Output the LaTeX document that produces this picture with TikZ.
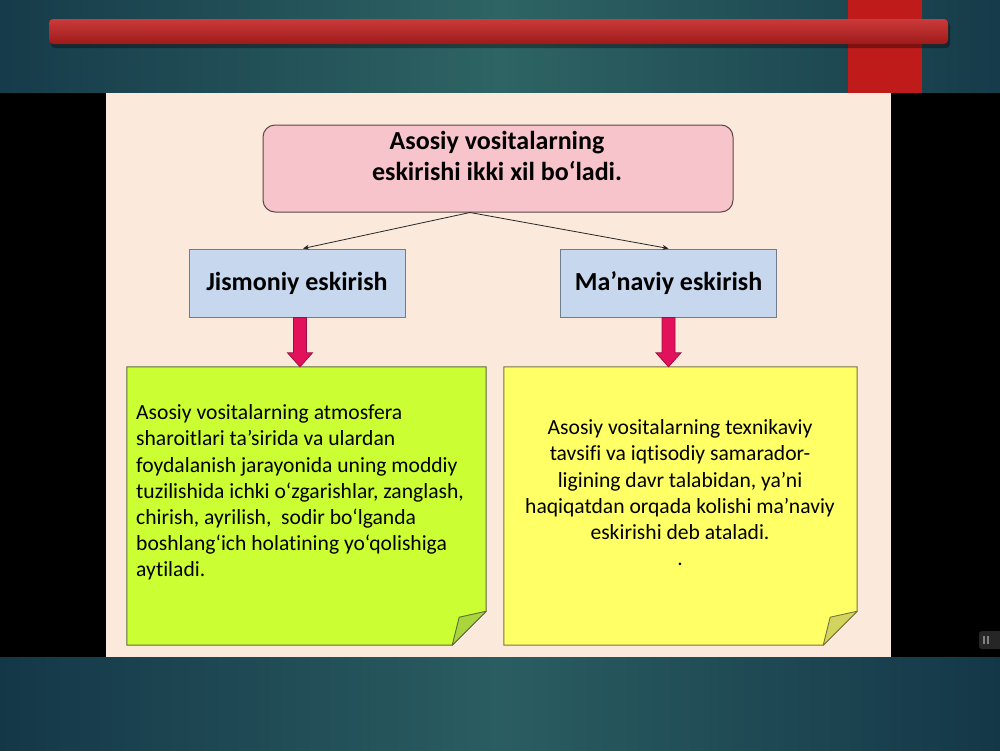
\documentclass[tikz,border=0pt]{standalone}
\usepackage{fontspec}
\setmainfont{Carlito}[Ligatures={NoCommon}]
\usetikzlibrary{calc,arrows.meta}
\definecolor{bgdark}{HTML}{163B4A}
\definecolor{bgmid}{HTML}{2E6464}
\definecolor{bgdarkb}{HTML}{143748}
\definecolor{bgmidb}{HTML}{2A5D61}
\definecolor{redtop}{HTML}{CB3A3A}
\definecolor{redbot}{HTML}{9E1A1A}
\definecolor{redvert}{HTML}{BF1B1B}
\definecolor{peach}{HTML}{FBE9DC}
\definecolor{pinkbox}{HTML}{F8C4CB}
\definecolor{pinkline}{HTML}{5A4848}
\definecolor{bluebox}{HTML}{C6D7EE}
\definecolor{blueline}{HTML}{6F7C8C}
\definecolor{lime}{HTML}{CCFF33}
\definecolor{limefold}{HTML}{A9D63C}
\definecolor{greenline}{HTML}{5E6B3A}
\definecolor{yell}{HTML}{FFFF66}
\definecolor{yellfold}{HTML}{D2D45E}
\definecolor{yellline}{HTML}{77744A}
\definecolor{crimson}{HTML}{E3105C}
\definecolor{crimsonline}{HTML}{9A1040}
\begin{document}
\begin{tikzpicture}[x=1pt,y=-1pt,
  topbox/.style={draw=pinkline, fill=pinkbox, rounded corners=12, minimum width=470, minimum height=87, line width=1},
  toptext/.style={font=\bfseries\fontsize{26}{31}\selectfont, align=center, inner sep=0},
  bluebx/.style={draw=blueline, fill=bluebox, minimum width=216, minimum height=68, line width=1, font=\bfseries\fontsize{26}{30}\selectfont},
  notearea/.style={minimum height=278, inner sep=0},
  bodytext/.style={font=\fontsize{21.6}{26.2}\selectfont, inner sep=0},
  thinarr/.style={-{Stealth[length=6pt,width=5pt]}, line width=0.8, black!85},
  pinkarr/.style={fill=crimson, draw=crimsonline, line width=0.8, line join=miter}
]
\useasboundingbox (0,0) rectangle (1000,750);
% background
\shade[left color=bgdark, right color=bgdark, middle color=bgmid] (0,0) rectangle (1000,94);
\shade[left color=bgdarkb, right color=bgdarkb, middle color=bgmidb] (0,656) rectangle (1000,750);
\fill[redvert] (848,0) rectangle (922,94);
\fill[black, opacity=0.35, rounded corners=4] (51,22) rectangle (950,48);
\shade[top color=redtop, bottom color=redbot, rounded corners=4] (49,19) rectangle (948,44);
% black band and slide
\fill[black] (0,93) rectangle (1000,657);
\fill[peach] (106,93) rectangle (891,657);
% pause icon
\fill[black!85!white, rounded corners=3] (979,631) rectangle (1003,649);
\fill[gray] (982.5,636) rectangle (984.5,644);
\fill[gray] (987,636) rectangle (989,644);
% top box
\node[topbox] (top) at (498,168.5) {};
\node[toptext, anchor=north] (ttext) at (497,131) {Asosiy vositalarning\\eskirishi ikki xil bo‘ladi.};
% blue boxes
\node[bluebx] (jis) at (297,283) {\raisebox{-2pt}{Jismoniy eskirish}};
\node[bluebx] (man) at (668.5,283) {\raisebox{-2pt}{Ma’naviy eskirish}};
\draw[thinarr] ([xshift=-28]top.south) -- ([xshift=6]jis.north);
\draw[thinarr] ([xshift=-28]top.south) -- (man.north);
% notes
\node[notearea, minimum width=359] (green) at (306.5,506) {};
\node[notearea, minimum width=353] (yellow) at (680.5,506) {};
\draw[fill=lime, draw=greenline, line width=1] (green.north west) -- (green.north east) -- ([yshift=34]green.south east) -- ([xshift=-34]green.south east) -- (green.south west) -- cycle;
\draw[fill=limefold, draw=greenline, line width=0.9, line join=round] ([xshift=-34]green.south east) -- ([xshift=-27,yshift=28]green.south east) -- ([yshift=34]green.south east) -- cycle;
\draw[fill=yell, draw=yellline, line width=1] (yellow.north west) -- (yellow.north east) -- ([yshift=34]yellow.south east) -- ([xshift=-34]yellow.south east) -- (yellow.south west) -- cycle;
\draw[fill=yellfold, draw=yellline, line width=0.9, line join=round] ([xshift=-34]yellow.south east) -- ([xshift=-27,yshift=28]yellow.south east) -- ([yshift=34]yellow.south east) -- cycle;
% pink arrows
\draw[pinkarr] let \p1=([xshift=3]jis.south), \p2=(green.north) in
  (\x1-6.5pt,\y1) -- (\x1+6.5pt,\y1) -- (\x1+6.5pt,\y2+14pt) -- (\x1+12.5pt,\y2+14pt) -- (\x1,\y2) -- (\x1-12.5pt,\y2+14pt) -- (\x1-6.5pt,\y2+14pt) -- cycle;
\draw[pinkarr] let \p1=(man.south), \p2=(yellow.north) in
  (\x1-6.5pt,\y1) -- (\x1+6.5pt,\y1) -- (\x1+6.5pt,\y2+14pt) -- (\x1+12.5pt,\y2+14pt) -- (\x1,\y2) -- (\x1-12.5pt,\y2+14pt) -- (\x1-6.5pt,\y2+14pt) -- cycle;
% texts
\node[bodytext, anchor=north west, align=left] (gtext) at (136,404.5) {Asosiy vositalarning atmosfera\\sharoitlari ta’sirida va ulardan\\foydalanish jarayonida uning moddiy\\tuzilishida ichki o‘zgarishlar, zanglash,\\chirish, ayrilish,~ sodir bo‘lganda\\boshlang‘ich holatining yo‘qolishiga\\aytiladi.};
\node[bodytext, anchor=north, align=center] (ytext) at (680,419.5) {Asosiy vositalarning texnikaviy\\tavsifi va iqtisodiy samarador-\\ligining davr talabidan, ya’ni\\haqiqatdan orqada kolishi ma’naviy\\eskirishi deb ataladi.\\.};
\end{tikzpicture}
\end{document}
